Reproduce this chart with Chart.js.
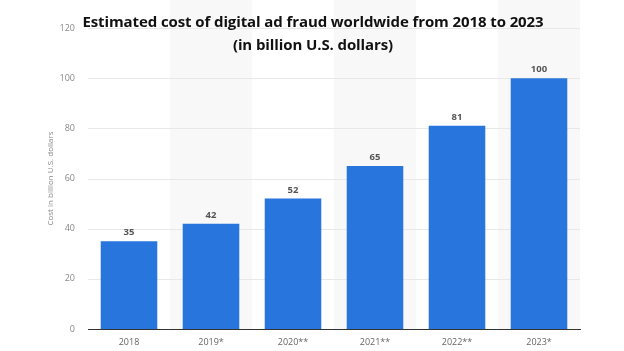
<!DOCTYPE html>
<html>
<head>
<meta charset="utf-8">
<script src="https://cdn.jsdelivr.net/npm/chart.js@4/dist/chart.umd.min.js"></script>
<style>
  html, body { margin: 0; padding: 0; background: #fff; }
  #wrap { position: relative; width: 624px; height: 351px; }
  #title { position: absolute; left: 0; top: 10px; width: 626px; text-align: center;
           font-family: "Open Sans", sans-serif; font-weight: 700; font-size: 15px;
           line-height: 23px; color: #111; pointer-events: none; letter-spacing: -0.1px; }
</style>
</head>
<body>
<div id="wrap">
  <canvas id="c" width="624" height="351"></canvas>
  <div id="title">Estimated cost of digital ad fraud worldwide from 2018 to 2023<br>(in billion U.S. dollars)</div>
</div>
<script>
const categories = ["2018", "2019*", "2020**", "2021**", "2022**", "2023*"];
const values = [35, 42, 52, 65, 81, 100];
const yTicks = [0, 20, 40, 60, 80, 100, 120];
const yAxisTitle = "Cost in billion U.S. dollars";

const bandPlugin = {
  id: 'bands',
  beforeDatasetsDraw(chart) {
    const { ctx, chartArea, scales } = chart;
    const x = scales.x;
    const w = (chartArea.right - chartArea.left) / categories.length;
    ctx.save();
    ctx.fillStyle = '#f8f8f8';
    categories.forEach((c, i) => {
      if (i % 2 === 1) {
        const cx = x.getPixelForValue(i);
        ctx.fillRect(cx - w / 2, 0, w, chartArea.bottom);
      }
    });
    ctx.restore();
  }
};

const gridRedraw = {
  id: 'gridRedraw',
  beforeDatasetsDraw(chart) {
    const { ctx, chartArea, scales } = chart;
    ctx.save();
    ctx.strokeStyle = '#e8e8e8';
    ctx.lineWidth = 1;
    yTicks.forEach(v => {
      if (v === 0) return;
      const y = Math.round(scales.y.getPixelForValue(v)) + 0.5;
      ctx.beginPath();
      ctx.moveTo(chartArea.left, y);
      ctx.lineTo(chartArea.right, y);
      ctx.stroke();
    });
    ctx.restore();
  }
};

const labelPlugin = {
  id: 'labels',
  afterDatasetsDraw(chart) {
    const { ctx } = chart;
    const meta = chart.getDatasetMeta(0);
    ctx.save();
    ctx.fillStyle = '#555';
    ctx.font = '700 9.5px "Open Sans", sans-serif';
    ctx.textAlign = 'center';
    ctx.textBaseline = 'bottom';
    meta.data.forEach((bar, i) => {
      ctx.fillText(String(values[i]), bar.x, bar.y - 4);
    });
    ctx.restore();
  }
};

new Chart(document.getElementById('c'), {
  type: 'bar',
  data: {
    labels: categories,
    datasets: [{
      data: values,
      backgroundColor: '#2876dd',
      categoryPercentage: 1,
      barPercentage: 0.69
    }]
  },
  options: {
    responsive: false,
    animation: false,
    events: [],
    layout: { padding: { left: 46, right: 44, top: 28, bottom: 0 } },
    plugins: { legend: { display: false }, tooltip: { enabled: false } },
    scales: {
      x: {
        grid: { display: false, drawTicks: false },
        border: { display: true, color: '#333', width: 1 },
        ticks: { color: '#666', font: { family: '"Open Sans", sans-serif', size: 9 }, padding: 8 },
        afterFit(s) { s.height = 22; }
      },
      y: {
        min: 0, max: 120,
        afterBuildTicks(s) { s.ticks = yTicks.map(v => ({ value: v })); },
        grid: { display: false, drawTicks: false },
        border: { display: false },
        ticks: { color: '#888', font: { family: '"Open Sans", sans-serif', size: 9 }, padding: 13 },
        title: { display: true, text: yAxisTitle, color: '#888', font: { family: '"Open Sans", sans-serif', size: 8 }, padding: { top: 0, bottom: 0 } },
        afterFit(s) { s.width = 42; }
      }
    }
  },
  plugins: [bandPlugin, gridRedraw, labelPlugin]
});
</script>
</body>
</html>
